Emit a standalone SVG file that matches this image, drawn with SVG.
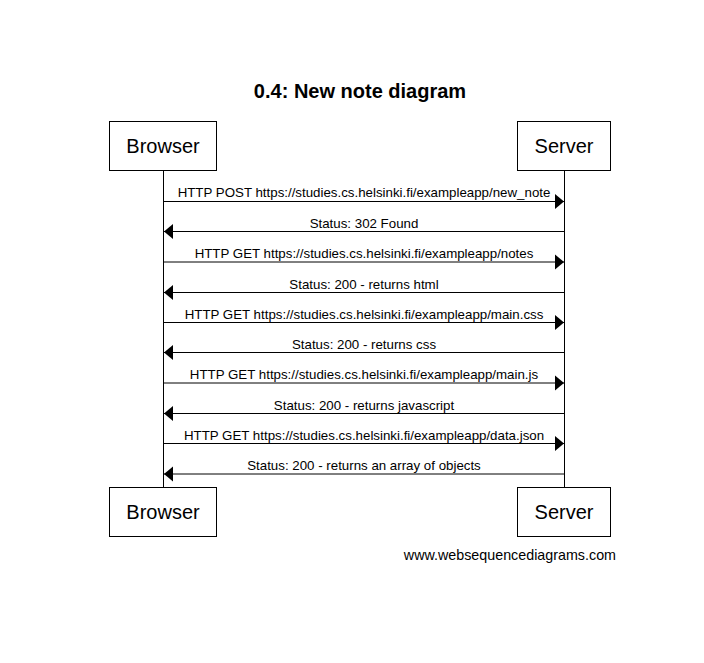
<svg xmlns="http://www.w3.org/2000/svg" width="704" height="663" viewBox="0 0 704 663">
<style>
text{font-family:"Liberation Sans",Arial,sans-serif;fill:#000}
.box{fill:#fff;stroke:#000;stroke-width:1}
.lbl{font-size:20px;text-anchor:middle}
.msg{font-size:13.3px;text-anchor:middle}
.ln{stroke:#000;stroke-width:1;fill:none}
</style>
<defs>
<marker id="ah" markerWidth="10" markerHeight="16" refX="9" refY="8" orient="auto" markerUnits="userSpaceOnUse">
<path d="M0,0.5 L9,8 L0,15.5 Z" fill="#000"/>
</marker>
</defs>
<rect width="704" height="663" fill="#fff"/>
<text x="360" y="98" font-size="20" font-weight="bold" text-anchor="middle">0.4: New note diagram</text>
<g id="lifelines">
<line class="ln" x1="163.5" y1="170" x2="163.5" y2="487"/>
<line class="ln" x1="564.5" y1="170" x2="564.5" y2="487"/>
</g>
<g id="browser-top"><rect class="box" x="109.5" y="121.5" width="107" height="49"/><text class="lbl" x="163" y="153">Browser</text></g>
<g id="server-top"><rect class="box" x="517.5" y="121.5" width="93" height="49"/><text class="lbl" x="564" y="153">Server</text></g>
<g id="browser-bottom"><rect class="box" x="109.5" y="487.5" width="107" height="49"/><text class="lbl" x="163" y="519">Browser</text></g>
<g id="server-bottom"><rect class="box" x="517.5" y="487.5" width="93" height="49"/><text class="lbl" x="564" y="519">Server</text></g>
<g id="connectors">
<line class="ln" x1="163.5" y1="201.5" x2="564" y2="201.5" marker-end="url(#ah)"/>
<text class="msg" x="364" y="197">HTTP POST https://studies.cs.helsinki.fi/exampleapp/new_note</text>
<line class="ln" x1="564.5" y1="231.5" x2="164" y2="231.5" marker-end="url(#ah)"/>
<text class="msg" x="364" y="228">Status: 302 Found</text>
<line class="ln" x1="163.5" y1="262" x2="564" y2="262" marker-end="url(#ah)"/>
<text class="msg" x="364" y="258">HTTP GET https://studies.cs.helsinki.fi/exampleapp/notes</text>
<line class="ln" x1="564.5" y1="292.5" x2="164" y2="292.5" marker-end="url(#ah)"/>
<text class="msg" x="364" y="289">Status: 200 - returns html</text>
<line class="ln" x1="163.5" y1="322.5" x2="564" y2="322.5" marker-end="url(#ah)"/>
<text class="msg" x="364" y="319">HTTP GET https://studies.cs.helsinki.fi/exampleapp/main.css</text>
<line class="ln" x1="564.5" y1="352.5" x2="164" y2="352.5" marker-end="url(#ah)"/>
<text class="msg" x="364" y="349">Status: 200 - returns css</text>
<line class="ln" x1="163.5" y1="383" x2="564" y2="383" marker-end="url(#ah)"/>
<text class="msg" x="364" y="379">HTTP GET https://studies.cs.helsinki.fi/exampleapp/main.js</text>
<line class="ln" x1="564.5" y1="413.5" x2="164" y2="413.5" marker-end="url(#ah)"/>
<text class="msg" x="364" y="410">Status: 200 - returns javascript</text>
<line class="ln" x1="163.5" y1="443.5" x2="564" y2="443.5" marker-end="url(#ah)"/>
<text class="msg" x="364" y="440">HTTP GET https://studies.cs.helsinki.fi/exampleapp/data.json</text>
<line class="ln" x1="564.5" y1="474" x2="164" y2="474" marker-end="url(#ah)"/>
<text class="msg" x="364" y="470">Status: 200 - returns an array of objects</text>
</g>
<text x="616" y="560" font-size="14.3" text-anchor="end">www.websequencediagrams.com</text>
</svg>
